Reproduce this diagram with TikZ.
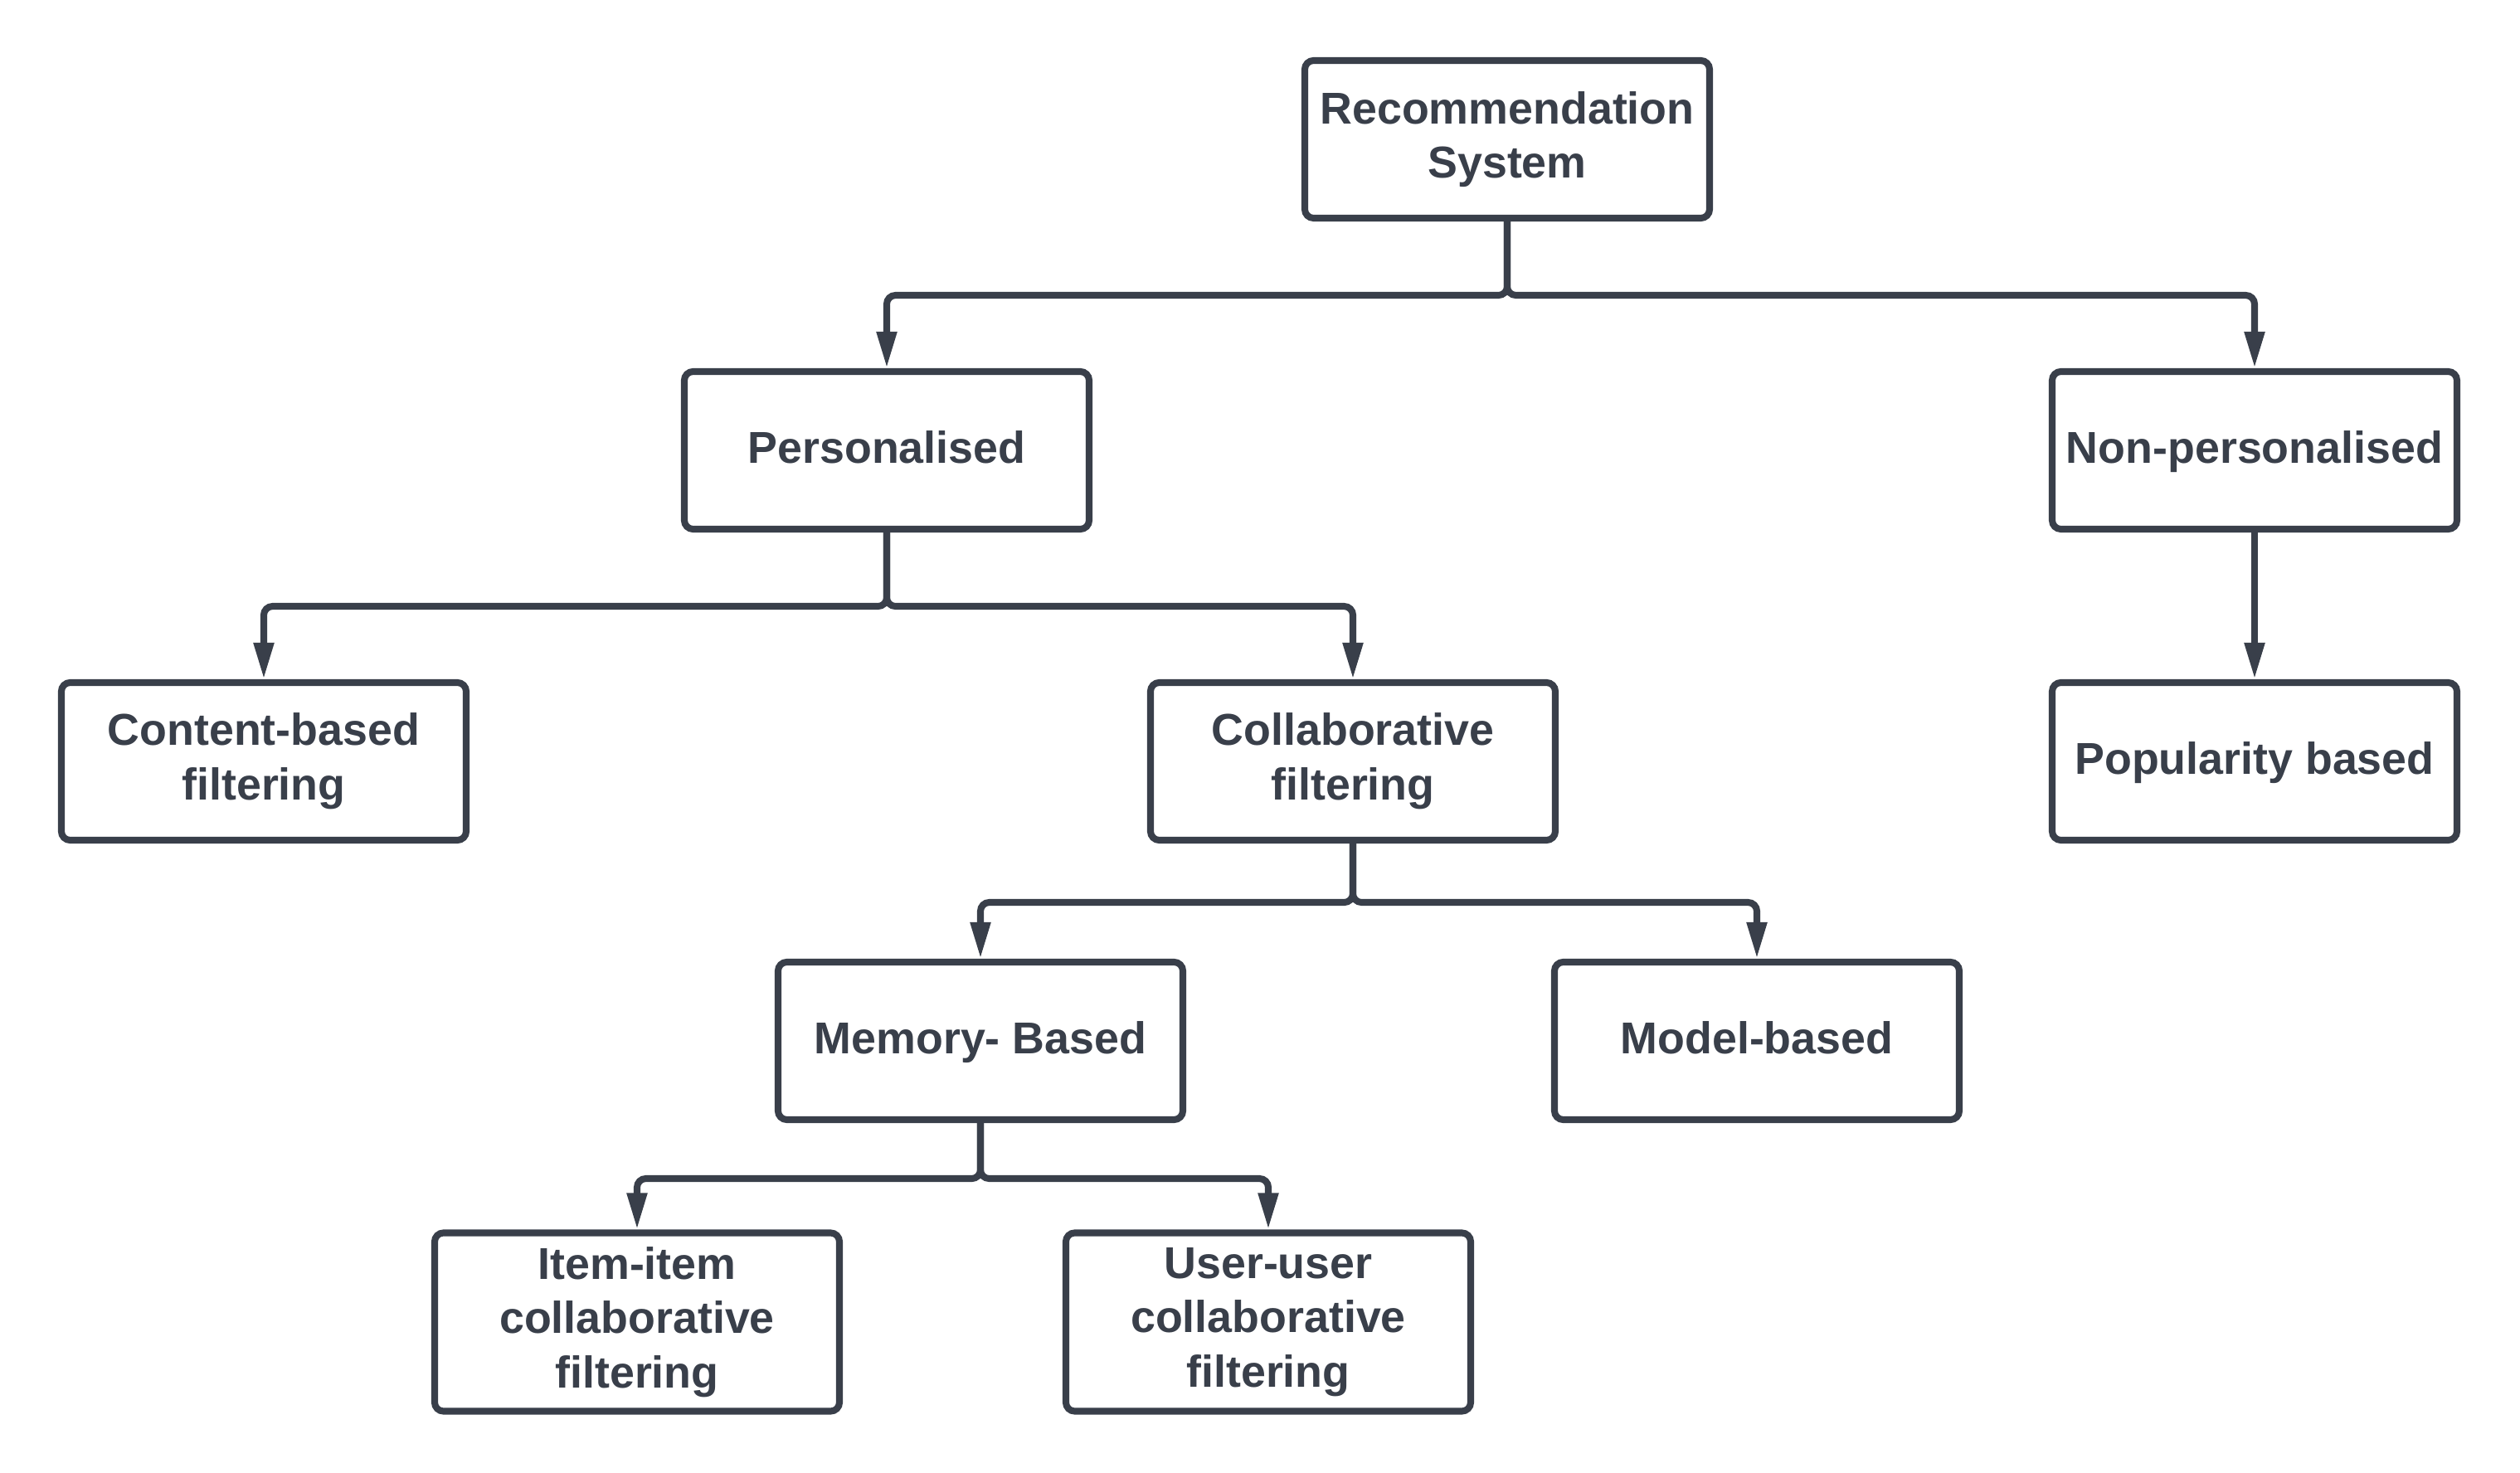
\documentclass[tikz,border=0pt]{standalone}
\usepackage{fontspec}
\setmainfont{Liberation Sans}
\usepackage{tikz}
\usetikzlibrary{arrows.meta}
\definecolor{ink}{HTML}{393F4A}

\begin{document}
\begin{tikzpicture}[
    box/.style={draw=ink, line width=2.3pt, rounded corners=3pt, fill=white,
        minimum width=4.88cm, minimum height=1.9cm, align=center, text=ink,
        font=\fontsize{15.3}{18.7}\selectfont\bfseries},
    oneline/.style={box, text depth=0.22em},
    tallbox/.style={box, minimum height=2.15cm},
    conn/.style={draw=ink, line width=2.3pt, rounded corners=3pt,
        -{Triangle[length=4.4mm, width=2.3mm]}}
    ]
        \useasboundingbox (0,0) rectangle (30.38,-17.76);

        % Nodes
        \node[box] (rec) at (18.17,-1.68) {Recommendation\\System};
        \node[oneline] (pers) at (10.69,-5.43) {Personalised};
        \node[oneline] (nonpers) at (27.18,-5.43) {Non-personalised};
        \node[box] (content) at (3.18,-9.18) {Content-based\\filtering};
        \node[box] (collab) at (16.31,-9.18) {Collaborative\\filtering};
        \node[oneline] (popular) at (27.18,-9.18) {Popularity based};
        \node[oneline] (memory) at (11.82,-12.55) {Memory- Based};
        \node[oneline] (model) at (21.18,-12.55) {Model-based};
        \node[tallbox] (item) at (7.68,-15.94) {Item-item\\collaborative\\filtering};
        \node[tallbox] (user) at (15.29,-15.94) {User-user\\collaborative\\filtering};

        % Edges
        \draw[conn] (rec.south) -- ++(0,-0.89) -| (pers.north);
        \draw[conn] (rec.south) -- ++(0,-0.89) -| (nonpers.north);
        \draw[conn] (pers.south) -- ++(0,-0.89) -| (content.north);
        \draw[conn] (pers.south) -- ++(0,-0.89) -| (collab.north);
        \draw[conn] (nonpers.south) -- (popular.north);
        \draw[conn] (collab.south) -- ++(0,-0.71) -| (memory.north);
        \draw[conn] (collab.south) -- ++(0,-0.71) -| (model.north);
        \draw[conn] (memory.south) -- ++(0,-0.67) -| (item.north);
        \draw[conn] (memory.south) -- ++(0,-0.67) -| (user.north);
    \end{tikzpicture}
\end{document}
